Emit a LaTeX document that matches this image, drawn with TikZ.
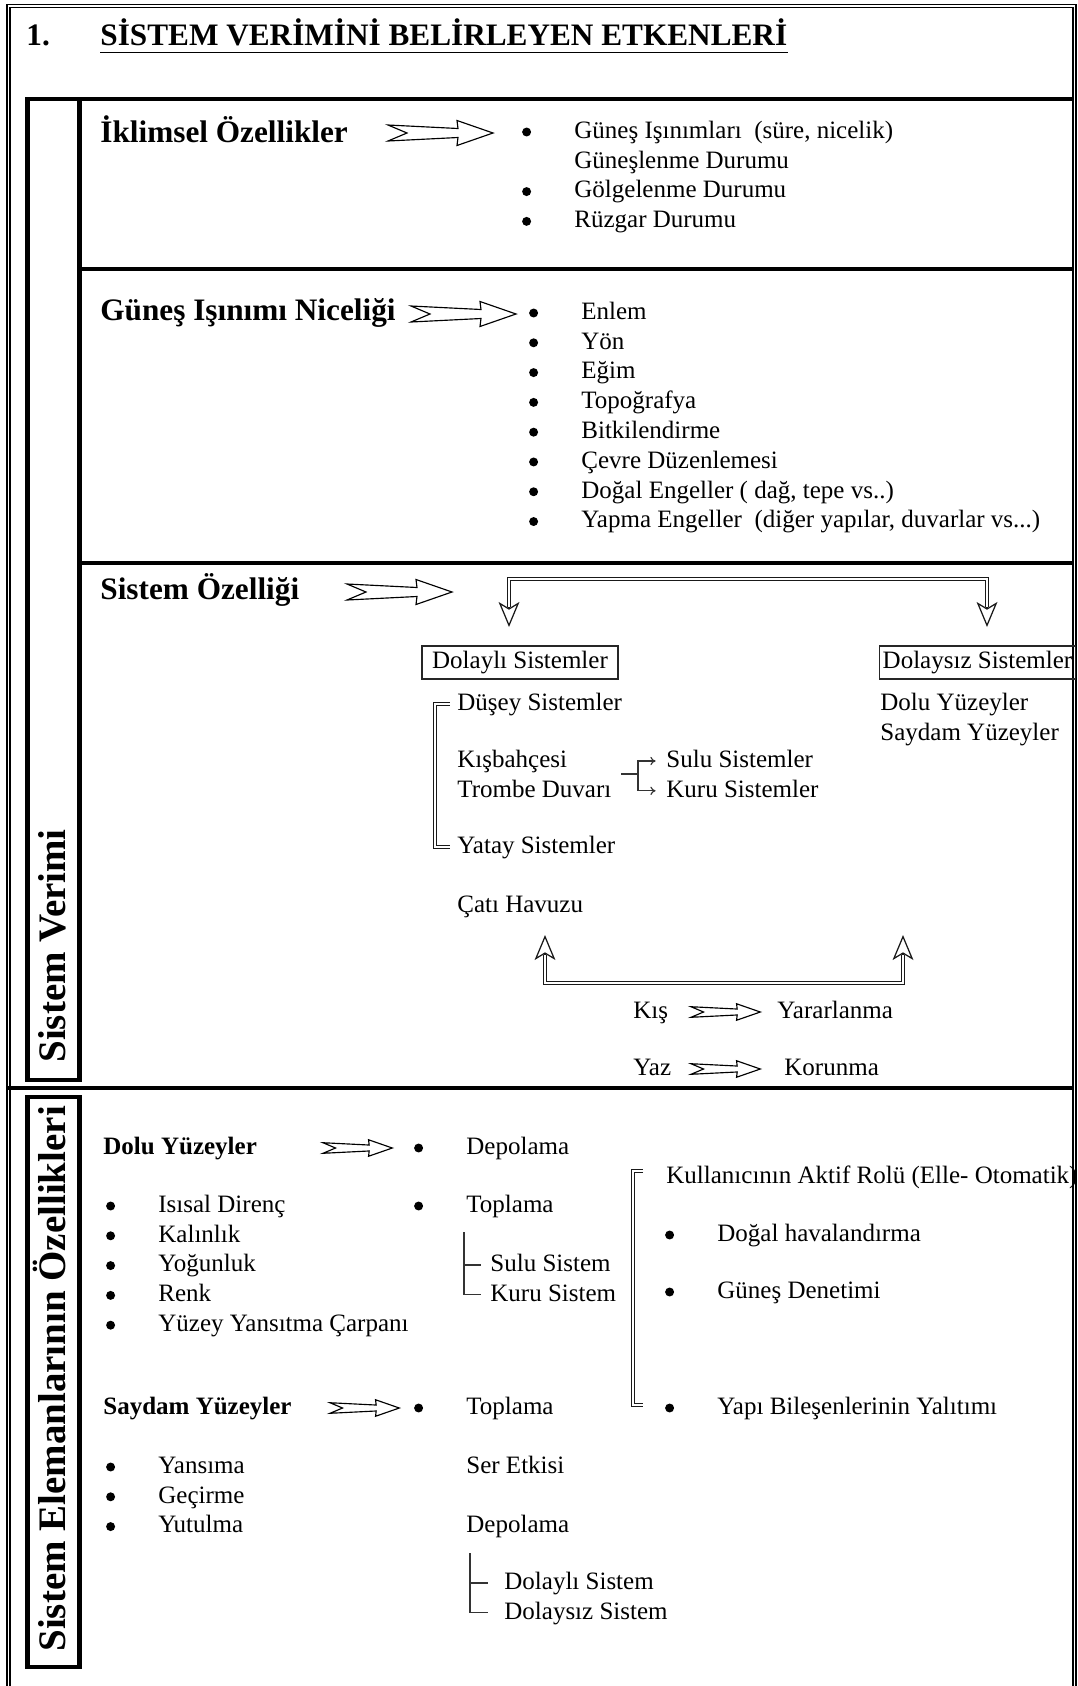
\documentclass[tikz,border=0pt]{standalone}
\usepackage{fontspec}
\setmainfont{Liberation Serif}
\usetikzlibrary{arrows.meta, positioning}

\begin{document}
\begin{tikzpicture}[x=0.48pt, y=-0.48pt,
    txt/.style={inner sep=0pt, anchor=west, font=\fontsize{12}{14}\selectfont, text height=8.4pt, text depth=2.4pt},
    heading/.style={txt, font=\fontsize{15}{18}\selectfont\bfseries, text height=10.5pt, text depth=3pt},
    subhead/.style={txt, font=\fontsize{12}{14}\selectfont\bfseries},
    lbl/.style={rotate=90, anchor=west, inner sep=0pt, font=\fontsize{18.7}{22}\selectfont\bfseries, text height=12.3pt, text depth=0pt},
    box/.style={draw=black!85, line width=0.6pt, inner sep=0pt, minimum width=94pt, minimum height=15.8pt, font=\fontsize{12}{14}\selectfont, text height=8.4pt, text depth=2.4pt},
    dot/.style={circle, fill, inner sep=0pt, minimum size=4.3pt},
    bulleted/.style={label={[dot, label distance=20.4pt]west:{}}},
    nextline/.style={below=3.1pt of #1.south west, anchor=north west},
    outerframe/.style={double, double distance=0.7pt, line width=0.8pt},
    sepline/.style={line width=2pt},
    dbl/.style={double, double distance=1.1pt, line width=0.6pt, draw=black!90},
    thinline/.style={line width=0.55pt, draw=black!80},
    smalltip/.style={-{To[length=2.5pt, width=4pt]}},
    openhead/.style={-{Stealth[open, length=12pt, width=10pt, inset=3pt]}, line width=0.6pt, draw=black!90},
    fatarrow/.pic={\draw[line width=0.55pt, fill=white] (0,-8) -- (70,-4.5) -- (69,-12.5) -- (105,0) -- (69,12.5) -- (70,4.5) -- (0,8) -- (19,0) -- cycle;}
]
    \useasboundingbox (0,0) rectangle (1078,1686);

    % frame and table lines
    \draw[outerframe] (8.5,1700) -- (8.5,6) -- (1074.5,6) -- (1074.5,1700);
    \draw[sepline] (27.5,99) rectangle (79.5,1080);
    \draw[sepline] (79.5,99) -- (1073,99);
    \draw[sepline] (79.5,269) -- (1073,269);
    \draw[sepline] (79.5,563) -- (1073,563);
    \draw[sepline] (7,1088) -- (1073,1088);
    \draw[sepline] (27.5,1097) rectangle (79.5,1667);

    \node[lbl] (verimLbl) at (53,1063) {Sistem Verimi};
    \node[lbl] (elemanLbl) at (53,1652) {Sistem Elemanlarının Özellikleri};

    % title
    \node[heading] (num) at (26,38) {1.};
    \node[heading] (title) at (100,38) {SİSTEM VERİMİNİ BELİRLEYEN ETKENLERİ};
    \draw[line width=0.8pt] ([yshift=-3.2pt]title.base west) -- ([yshift=-3.2pt]title.base east);

    % climate
    \node[heading] (iklim) at (100,135) {İklimsel Özellikler};
    \pic at (388,133) {fatarrow};
    \node[txt, bulleted] (isinim) at (574,132) {Güneş Işınımları\ \ (süre, nicelik)};
    \node[txt, nextline=isinim] (guneslenme) {Güneşlenme Durumu};
    \node[txt, bulleted, nextline=guneslenme] (golge) {Gölgelenme Durumu};
    \node[txt, bulleted, nextline=golge] (ruzgar) {Rüzgar Durumu};

    % radiation
    \node[heading] (nicelik) at (100,313) {Güneş Işınımı Niceliği};
    \pic at (411,314) {fatarrow};
    \node[txt, bulleted] (enlem) at (581,313) {Enlem};
    \node[txt, bulleted, nextline=enlem] (yon) {Yön};
    \node[txt, bulleted, nextline=yon] (egim) {Eğim};
    \node[txt, bulleted, nextline=egim] (topo) {Topoğrafya};
    \node[txt, bulleted, nextline=topo] (bitki) {Bitkilendirme};
    \node[txt, bulleted, nextline=bitki] (cevre) {Çevre Düzenlemesi};
    \node[txt, bulleted, nextline=cevre] (dogal) {Doğal Engeller ( dağ, tepe vs..)};
    \node[txt, bulleted, nextline=dogal] (yapma) {Yapma Engeller\ \ (diğer yapılar, duvarlar vs...)};

    % system
    \node[heading] (ozellik) at (100,592) {Sistem Özelliği};
    \pic at (347,592) {fatarrow};
    \node[box] (dolayli) at (520,662.5) {Dolaylı Sistemler};
    \node[box] (dolaysiz) at (977.5,662.5) {Dolaysız Sistemler};
    \coordinate (hbL) at (509,607);
    \coordinate (hbR) at (987,607);
    \coordinate (toL) at (509,627);
    \coordinate (toR) at (987,627);
    \draw[dbl] (hbL) -- ++(0,-28) -| (hbR);
    \draw[openhead] (hbL) -- (toL);
    \draw[openhead] (hbR) -- (toR);

    \node[txt] (doluU) at (880,704) {Dolu Yüzeyler};
    \node[txt, nextline=doluU] (saydamU) {Saydam Yüzeyler};

    \node[txt] (dusey) at (457,704) {Düşey Sistemler};
    \node[txt] (kisbah) at (457,761) {Kışbahçesi};
    \node[txt, nextline=kisbah] (trombe) {Trombe Duvarı};
    \node[txt] (yatay) at (457,847) {Yatay Sistemler};
    \draw[dbl] ([xshift=-3.4pt]dusey.west) -- ++(-15,0) |- ([xshift=-3.4pt]yatay.west);

    \coordinate (fork) at (621,774);
    \node[txt] (sulu) at (666,761) {Sulu Sistemler};
    \node[txt, nextline=sulu] (kuru) {Kuru Sistemler};
    \draw[thinline] (fork) -- ++(17,0) coordinate (forkm);
    \draw[thinline, smalltip] (forkm) |- ([xshift=-5pt]sulu.west);
    \draw[thinline, smalltip] (forkm) |- ([xshift=-5pt]kuru.west);

    \node[txt] (havuz) at (457,906) {Çatı Havuzu};
    \coordinate (ubL) at (545,955);
    \coordinate (ubR) at (903,955);
    \coordinate (upL) at (545,935);
    \coordinate (upR) at (903,935);
    \draw[dbl] (ubL) -- ++(0,28) -| (ubR);
    \draw[openhead] (ubL) -- (upL);
    \draw[openhead] (ubR) -- (upR);

    \node[txt] (kis) at (633,1012) {Kış};
    \pic[scale=0.66] at (691,1012) {fatarrow};
    \node[txt] (yarar) at (777,1012) {Yararlanma};
    \node[txt] (yaz) at (633,1069) {Yaz};
    \pic[scale=0.66] at (691,1069) {fatarrow};
    \node[txt] (koru) at (784,1069) {Korunma};

    % solid surfaces
    \node[subhead] (doluY) at (103,1148) {Dolu Yüzeyler};
    \pic[scale=0.66] at (323,1148) {fatarrow};
    \node[txt, bulleted] (depo1) at (466,1148) {Depolama};
    \node[txt, bulleted] (isil) at (158,1206) {Isısal Direnç};
    \node[txt, bulleted, nextline=isil] (kalin) {Kalınlık};
    \node[txt, bulleted, nextline=kalin] (yogun) {Yoğunluk};
    \node[txt, bulleted, nextline=yogun] (renk) {Renk};
    \node[txt, bulleted, nextline=renk] (yansit) {Yüzey Yansıtma Çarpanı};
    \node[txt, bulleted] (topla1) at (466,1206) {Toplama};

    \coordinate (suluTop) at (464,1232);
    \node[txt] (sulu2) at (490,1265) {Sulu Sistem};
    \node[txt, nextline=sulu2] (kuru2) {Kuru Sistem};
    \draw[thinline] (suluTop) |- ([xshift=-4.3pt]kuru2.west);
    \draw[thinline] (suluTop |- sulu2.west) -- ([xshift=-4.3pt]sulu2.west);

    \node[txt] (aktif) at (666,1177) {Kullanıcının Aktif Rolü (Elle- Otomatik)};
    \node[txt, bulleted] (havalan) at (717,1235) {Doğal havalandırma};
    \node[txt, bulleted] (denetim) at (717,1292) {Güneş Denetimi};
    \node[txt, bulleted] (yalitim) at (717,1408) {Yapı Bileşenlerinin Yalıtımı};
    \coordinate (kTop) at (643,1171);
    \coordinate (kBot) at (643,1405);
    \draw[dbl] (kTop) -- ++(-10,0) |- (kBot);

    % transparent surfaces
    \node[subhead] (saydamY) at (103,1408) {Saydam Yüzeyler};
    \pic[scale=0.66] at (330,1408) {fatarrow};
    \node[txt, bulleted] (topla2) at (466,1408) {Toplama};
    \node[txt, bulleted] (yansima) at (158,1467) {Yansıma};
    \node[txt, bulleted, nextline=yansima] (gecirme) {Geçirme};
    \node[txt, bulleted, nextline=gecirme] (yutulma) {Yutulma};
    \node[txt] (ser) at (466,1467) {Ser Etkisi};
    \node[txt] (depo2) at (466,1526) {Depolama};

    \coordinate (dolTop) at (470,1553);
    \node[txt] (dolayli2) at (504,1583) {Dolaylı Sistem};
    \node[txt, nextline=dolayli2] (dolaysiz2) {Dolaysız Sistem};
    \draw[thinline] (dolTop) |- ([xshift=-7.7pt]dolaysiz2.west);
    \draw[thinline] (dolTop |- dolayli2.west) -- ([xshift=-7.7pt]dolayli2.west);

\end{tikzpicture}
\end{document}
